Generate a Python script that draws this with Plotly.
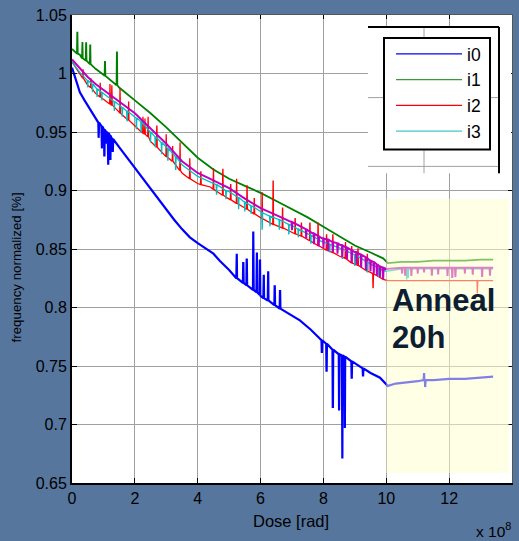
import plotly.graph_objects as go

# ---------------- data (x in units of 1e8 rad) ----------------
i0_x = [0, 0.1, 0.25, 0.4, 0.6, 0.8, 1.0, 1.25, 1.5, 1.75, 2.0, 2.25, 2.5, 2.75, 3.0, 3.25, 3.5, 3.75,
        4.0, 4.3, 4.5, 4.7, 5.0, 5.35, 5.7, 6.0, 6.3, 6.6, 7.0, 7.25, 7.6, 7.9, 8.2, 8.5, 8.85, 9.2,
        9.5, 9.8, 9.95, 10.05, 10.3, 10.7, 11.0, 11.5, 12.0, 12.5, 13.0, 13.4]
i0_y = [1.005, 0.996, 0.984, 0.977, 0.968, 0.959, 0.953, 0.945, 0.937, 0.928, 0.920, 0.910, 0.901,
        0.893, 0.884, 0.875, 0.867, 0.860, 0.855, 0.850, 0.846, 0.840, 0.832, 0.823, 0.816, 0.810,
        0.805, 0.799, 0.793, 0.789, 0.781, 0.773, 0.766, 0.760, 0.755, 0.749, 0.744, 0.740, 0.736,
        0.733, 0.735, 0.736, 0.737, 0.738, 0.739, 0.739, 0.740, 0.741]
i0_spk_x = [0.85, 0.95, 1.03, 1.1, 1.15, 1.22, 1.3,
            5.24, 5.45, 5.56, 5.77, 5.88, 5.98, 6.1, 6.24, 6.45, 6.62,
            7.95, 8.1, 8.3, 8.5, 8.6, 8.68, 8.9, 9.26, 11.2, 11.24]
i0_spk_base = [0.958, 0.955, 0.952, 0.950, 0.949, 0.947, 0.944,
               0.825, 0.821, 0.819, 0.815, 0.813, 0.811, 0.808, 0.806, 0.802, 0.799,
               0.772, 0.769, 0.764, 0.760, 0.759, 0.758, 0.754, 0.748, 0.738, 0.738]
i0_spk_peak = [0.945, 0.936, 0.930, 0.940, 0.922, 0.926, 0.933,
               0.846, 0.838, 0.841, 0.865, 0.847, 0.840, 0.828, 0.831, 0.818, 0.814,
               0.762, 0.746, 0.715, 0.712, 0.671, 0.697, 0.740, 0.742, 0.744, 0.732]

i1_x = [0, 0.25, 0.5, 0.75, 1.0, 1.5, 2.0, 2.5, 3.0, 3.5, 4.0, 4.5, 5.0, 5.5, 6.0, 6.5, 7.0, 7.5,
        8.0, 8.5, 9.0, 9.5, 9.9, 10.05, 10.5, 11.0, 11.5, 12.0, 12.5, 13.0, 13.4]
i1_y = [1.021, 1.016, 1.010, 1.004, 0.999, 0.988, 0.977, 0.966, 0.954, 0.941, 0.928, 0.918, 0.910,
        0.904, 0.898, 0.891, 0.884, 0.877, 0.869, 0.861, 0.853, 0.847, 0.842, 0.838, 0.839, 0.839,
        0.840, 0.840, 0.840, 0.841, 0.841]
i1_spk_x = [0.17, 0.33, 0.45, 0.58, 1.05, 1.43]
i1_spk_base = [1.017, 1.013, 1.011, 1.008, 0.998, 0.990]
i1_spk_peak = [1.035, 1.027, 1.026, 1.024, 1.010, 1.018]

i2_x = [0, 0.25, 0.5, 0.75, 1.0, 1.25, 1.5, 2.0, 2.5, 3.0, 3.5, 3.75, 4.0, 4.4, 5.0, 5.5, 6.0, 6.5,
        7.0, 7.5, 7.9, 8.5, 9.0, 9.5, 9.9, 10.05, 11.0, 12.0, 13.0, 13.4]
i2_y = [1.010, 0.999, 0.990, 0.983, 0.978, 0.973, 0.967, 0.955, 0.942, 0.929, 0.915, 0.910, 0.906,
        0.903, 0.893, 0.885, 0.877, 0.870, 0.864, 0.858, 0.852, 0.844, 0.837, 0.830, 0.824, 0.823,
        0.823, 0.823, 0.823, 0.823]
i2_spk_x = [0.35, 0.6, 0.9, 1.21, 1.27, 1.53, 1.8, 2.26, 2.32, 2.42, 2.7, 3.0, 3.2, 3.44, 3.75, 4.1,
            4.5, 4.8, 5.05, 5.24, 5.57, 5.8, 6.05, 6.4, 6.7, 7.1, 7.3, 7.57, 7.83, 8.1, 8.3, 8.7,
            8.9, 9.1, 9.4, 9.58, 12.9]
i2_spk_base = [0.996, 0.988, 0.980, 0.974, 0.973, 0.966, 0.960, 0.949, 0.948, 0.946, 0.937, 0.929,
               0.925, 0.917, 0.910, 0.905, 0.901, 0.896, 0.892, 0.889, 0.884, 0.880, 0.876, 0.871,
               0.868, 0.863, 0.861, 0.857, 0.853, 0.849, 0.847, 0.842, 0.838, 0.836, 0.831, 0.829,
               0.823]
i2_spk_peak = [1.003, 0.996, 0.992, 0.991, 0.990, 0.987, 0.976, 0.963, 0.9615, 0.963, 0.955, 0.948,
               0.938, 0.941, 0.9275, 0.916, 0.919, 0.918, 0.905, 0.910, 0.904, 0.893, 0.898, 0.908,
               0.885, 0.876, 0.872, 0.872, 0.872, 0.862, 0.862, 0.856, 0.852, 0.850, 0.846, 0.817,
               0.812]

i3_x = [0, 0.25, 0.5, 0.75, 1.0, 1.5, 2.0, 2.5, 3.0, 3.5, 4.0, 4.4, 5.0, 5.5, 6.0, 6.5, 7.0, 7.5,
        7.9, 8.5, 8.95, 9.5, 9.86, 10.0, 10.5, 11.0, 11.5, 12.0, 12.5, 13.0, 13.4]
i3_y = [1.010, 1.001, 0.994, 0.988, 0.983, 0.973, 0.963, 0.950, 0.937, 0.922, 0.912, 0.907, 0.899,
        0.890, 0.882, 0.876, 0.870, 0.863, 0.857, 0.851, 0.845, 0.837, 0.832, 0.831, 0.833, 0.833,
        0.833, 0.833, 0.833, 0.833, 0.833]
i3_spk_x = [0.5, 0.65, 0.8, 0.95, 1.35, 1.6, 1.75, 2.05, 2.2, 2.5, 2.65, 2.85, 3.05, 3.3, 4.6, 4.9,
            5.3, 5.5, 5.7, 6.05, 6.3, 6.6, 6.9, 7.2, 7.6, 8.2, 8.6, 9.0, 9.4, 9.75, 10.65, 10.7,
            12.2, 13.3]
i3_spk_base = [0.994, 0.991, 0.987, 0.984, 0.976, 0.971, 0.968, 0.962, 0.959, 0.950, 0.946, 0.941,
               0.936, 0.929, 0.905, 0.900, 0.894, 0.890, 0.887, 0.881, 0.878, 0.875, 0.871, 0.867,
               0.862, 0.854, 0.850, 0.845, 0.839, 0.834, 0.833, 0.833, 0.833, 0.833]
i3_spk_peak = [0.988, 0.984, 0.980, 0.977, 0.968, 0.963, 0.959, 0.953, 0.950, 0.941, 0.937, 0.931,
               0.926, 0.918, 0.897, 0.893, 0.884, 0.882, 0.880, 0.867, 0.870, 0.867, 0.863, 0.860,
               0.855, 0.847, 0.842, 0.836, 0.830, 0.826, 0.8245, 0.826, 0.828, 0.829]

i4_x = [0, 0.25, 0.5, 0.75, 1.0, 1.5, 2.0, 2.5, 3.0, 3.5, 4.0, 4.4, 5.0, 5.5, 6.0, 6.5, 7.0, 7.5,
        7.9, 8.5, 8.95, 9.5, 9.86, 10.0, 10.5, 11.0, 11.5, 12.0, 12.5, 13.0, 13.4]
i4_y = [1.012, 1.004, 0.997, 0.991, 0.986, 0.976, 0.966, 0.953, 0.940, 0.925, 0.915, 0.910, 0.902,
        0.893, 0.885, 0.879, 0.873, 0.866, 0.860, 0.854, 0.848, 0.840, 0.834, 0.833, 0.834, 0.834,
        0.834, 0.834, 0.834, 0.834, 0.834]
i4_spk_x = [7.0, 7.45, 7.7, 7.85, 8.0, 8.15, 8.3, 8.45, 8.6, 8.75, 8.9, 9.05, 9.2, 9.35, 9.5, 9.6,
            9.7, 9.8, 9.9, 10.5, 10.6, 10.8, 11.0, 11.2, 11.45, 11.65, 11.95, 12.1, 12.2, 12.5,
            12.75, 13.05, 13.3]
i4_spk_base = [0.873, 0.867, 0.863, 0.861, 0.859, 0.858, 0.856, 0.855, 0.853, 0.851, 0.849, 0.847,
               0.845, 0.843, 0.840, 0.839, 0.837, 0.835, 0.834, 0.834, 0.834, 0.834, 0.834, 0.834,
               0.834, 0.834, 0.834, 0.834, 0.834, 0.834, 0.834, 0.834, 0.834]
i4_spk_peak = [0.866, 0.859, 0.855, 0.853, 0.851, 0.849, 0.848, 0.846, 0.844, 0.842, 0.839, 0.837,
               0.835, 0.833, 0.831, 0.829, 0.827, 0.826, 0.825, 0.829, 0.828, 0.827, 0.829, 0.830,
               0.828, 0.829, 0.827, 0.826, 0.826, 0.829, 0.828, 0.827, 0.828]

x_ticks = [0, 2, 4, 6, 8, 10, 12, 14]
y_ticks = [0.65, 0.7, 0.75, 0.8, 0.85, 0.9, 0.95, 1.0, 1.05]
y_ticktext = ["0.65", "0.7", "0.75", "0.8", "0.85", "0.9", "0.95", "1", "1.05"]


def merge(xs, ys, sx, sb, sp, w=0.012):
    pts = list(zip(xs, ys))
    for x, b, p in zip(sx, sb, sp):
        pts += [(x - w, b), (x - w * 0.2, p), (x + w * 0.2, p), (x + w, b)]
    pts.sort(key=lambda t: t[0])
    return [t[0] for t in pts], [t[1] for t in pts]


FONT = "Arial, Liberation Sans, sans-serif"
fig = go.Figure()

series = [
    ("i0", i0_x, i0_y, i0_spk_x, i0_spk_base, i0_spk_peak, "#0000FF", 2.2),
    ("i1", i1_x, i1_y, i1_spk_x, i1_spk_base, i1_spk_peak, "#008000", 1.8),
    ("i2", i2_x, i2_y, i2_spk_x, i2_spk_base, i2_spk_peak, "#FF0000", 1.3),
    ("i3", i3_x, i3_y, i3_spk_x, i3_spk_base, i3_spk_peak, "#00BFBF", 1.3),
    ("i4", i4_x, i4_y, i4_spk_x, i4_spk_base, i4_spk_peak, "#BF00BF", 2.0),
]
for name, xs, ys, sx, sb, sp, col, lw in series:
    mx, my = merge(xs, ys, sx, sb, sp)
    fig.add_trace(go.Scatter(x=mx, y=my, mode="lines", name=name, showlegend=False,
                             line=dict(color=col, width=lw)))
# legend entries drawn with the thin legend line style
legend_colors = {"i0": "#0000FF", "i1": "#3a9a3a", "i2": "#FF0000", "i3": "#40C8C8"}
for name, col in legend_colors.items():
    fig.add_trace(go.Scatter(x=[None], y=[None], mode="lines", name=name,
                             showlegend=True, line=dict(color=col, width=1.2)))

# empty trace on the mirrored axes (frame top/right)
fig.add_trace(go.Scatter(x=[0], y=[0.65], xaxis="x2", yaxis="y2", mode="lines",
                         showlegend=False, hoverinfo="skip", line=dict(width=0)))

axis_common = dict(showgrid=True, gridcolor="#a0a0a0", gridwidth=1, zeroline=False,
                   ticks="inside", ticklen=5, tickcolor="#000", tickwidth=1,
                   showline=True, linecolor="#000", linewidth=2,
                   tickfont=dict(family=FONT, size=16, color="#000"))

fig.update_layout(
    width=519, height=541,
    margin=dict(l=72, r=7, t=13, b=58),
    paper_bgcolor="#56769d",
    plot_bgcolor="#ffffff",
    xaxis=dict(range=[0, 14], tickvals=x_ticks, ticktext=[str(v) for v in x_ticks], **axis_common),
    yaxis=dict(range=[0.65, 1.05], tickvals=y_ticks, ticktext=y_ticktext, **axis_common),
    xaxis2=dict(range=[0, 14], overlaying="x", side="top", tickvals=x_ticks, showticklabels=False,
                ticks="inside", ticklen=4, tickcolor="#000", showline=True, linecolor="#555",
                linewidth=1, showgrid=False, zeroline=False),
    yaxis2=dict(range=[0.65, 1.05], overlaying="y", side="right", tickvals=y_ticks,
                showticklabels=False, ticks="inside", ticklen=4, tickcolor="#000", showline=True,
                linecolor="#555", linewidth=1, showgrid=False, zeroline=False),
    legend=dict(x=(391 - 72) / 440, y=(483 - 34) / 470, xanchor="left", yanchor="top",
                bgcolor="rgba(0,0,0,0)", borderwidth=0, itemwidth=66, tracegroupgap=0,
                font=dict(family=FONT, size=17.5, color="#000")),
    showlegend=True,
)

# covering panel behind the legend (stale inset axes)
X0, X1, XR = 9.418, 13.97, 13.586
Y0, Y1 = 0.9147, 1.0398


def px2x(p):
    return (p - 72) / 440 * 14


def py2y(p):
    return 1.05 - (p - 13) / 470 * 0.4


shapes = [
    dict(type="rect", x0=X0, x1=X1, y0=Y0, y1=Y1, fillcolor="#ffffff", line=dict(width=0), layer="above"),
    dict(type="line", x0=X0, x1=XR, y0=0.9206, y1=0.9206, line=dict(color="#a0a0a0", width=1), layer="above"),
    dict(type="line", x0=X0, x1=XR, y0=0.9794, y1=0.9794, line=dict(color="#a0a0a0", width=1), layer="above"),
    dict(type="line", x0=11.2, x1=11.2, y0=Y0, y1=Y1, line=dict(color="#a0a0a0", width=1), layer="above"),
    dict(type="line", x0=X0, x1=XR, y0=Y1, y1=Y1, line=dict(color="#000", width=2), layer="above"),
    dict(type="line", x0=XR, x1=XR, y0=Y0, y1=Y1, line=dict(color="#000", width=2), layer="above"),
    # legend box
    dict(type="rect", x0=px2x(384), x1=px2x(490), y0=py2y(148), y1=py2y(36), fillcolor="#ffffff",
         line=dict(color="#000", width=2), layer="above"),
    # anneal highlight
    dict(type="rect", x0=10, x1=13.9, y0=0.6585, y1=0.893, fillcolor="#FFFFCC", opacity=0.5,
         line=dict(width=0), layer="above"),
]
fig.update_layout(shapes=shapes)

fig.add_annotation(x=10.13, y=0.8057, xref="x", yref="y", text="<b>Anneal</b>", showarrow=False,
                   xanchor="left", yanchor="middle", font=dict(family=FONT, size=31, color="#0d1e33"))
fig.add_annotation(x=10.13, y=0.7747, xref="x", yref="y", text="<b>20h</b>", showarrow=False,
                   xanchor="left", yanchor="middle", font=dict(family=FONT, size=31, color="#0d1e33"))

# axis titles
fig.add_annotation(x=(16.5 - 72) / 440, y=(483 - 267) / 470, xref="paper", yref="paper",
                   text="frequency normalized [%]", textangle=-90, showarrow=False,
                   xanchor="center", yanchor="middle", font=dict(family=FONT, size=13.3, color="#000"))
fig.add_annotation(x=(291 - 72) / 440, y=(483 - 521) / 470, xref="paper", yref="paper",
                   text="Dose [rad]", showarrow=False, xanchor="center", yanchor="middle",
                   font=dict(family=FONT, size=16.5, color="#000"))
fig.add_annotation(x=(513 - 72) / 440, y=(483 - 530) / 470, xref="paper", yref="paper",
                   text="x 10<sup>8</sup>", showarrow=False, xanchor="right", yanchor="middle",
                   font=dict(family=FONT, size=15.5, color="#000"))

fig.write_html("out.html")
